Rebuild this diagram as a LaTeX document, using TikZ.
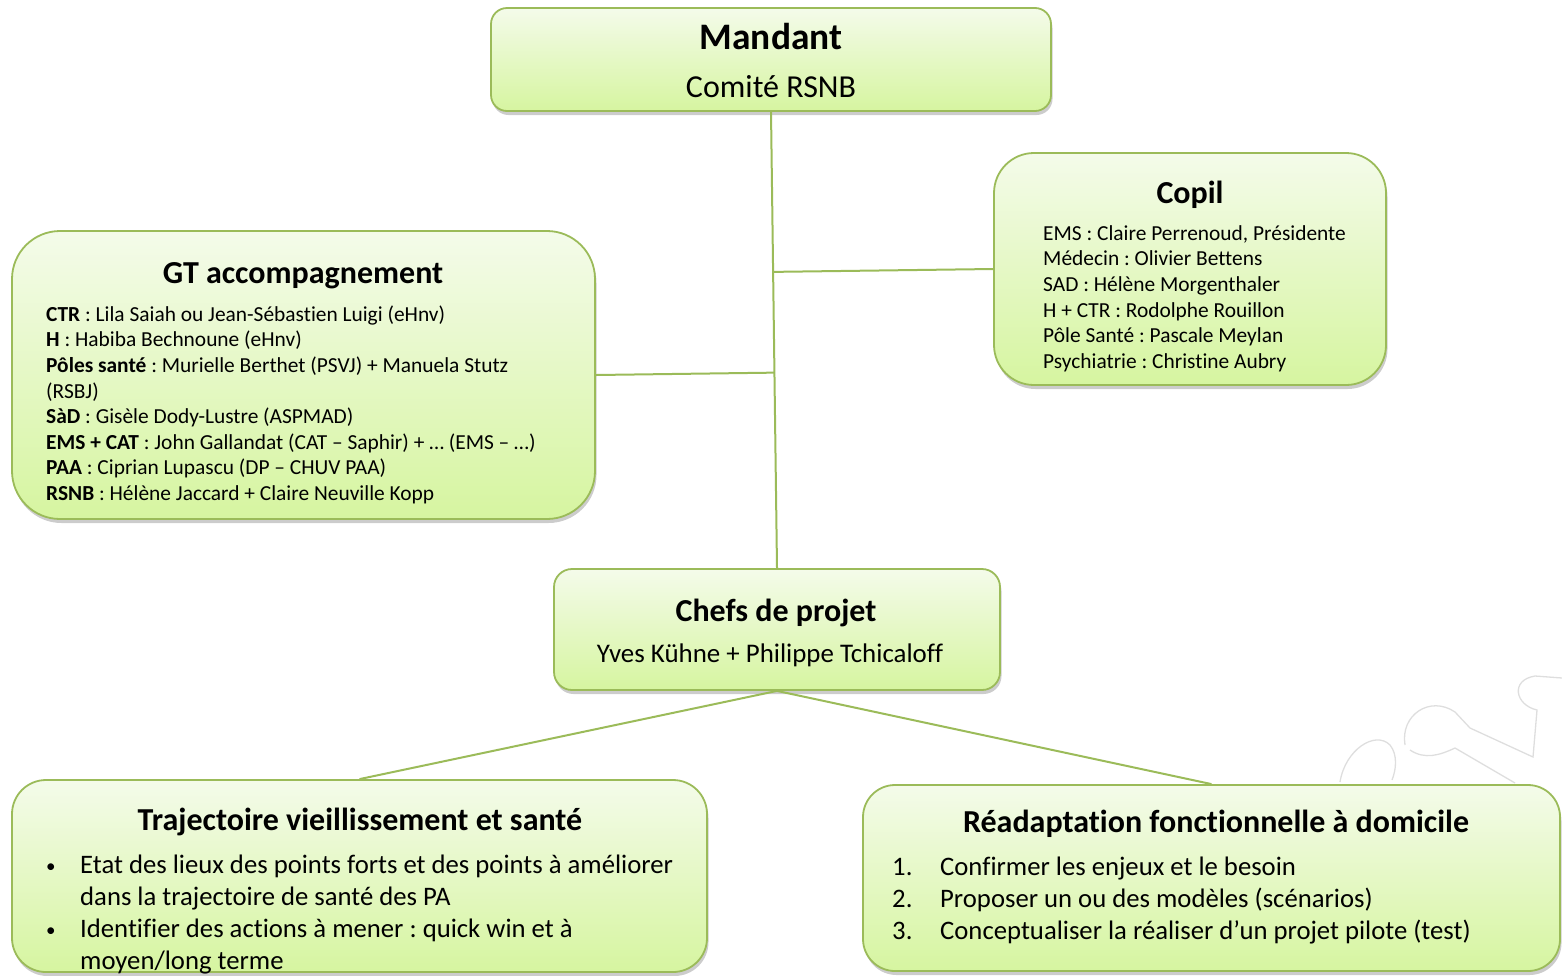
\documentclass[tikz,border=0pt]{standalone}
\usepackage{fontspec}
\setmainfont{Carlito}[Ligatures=NoCommon]
\frenchspacing
\usetikzlibrary{positioning,shadows,calc}
\definecolor{linegreen}{HTML}{9BBB59}
\definecolor{limetop}{HTML}{F4FBEA}
\definecolor{limebot}{HTML}{D6F5A0}
\newcommand{\smallbul}{\makebox[34pt][l]{\raisebox{1pt}{\fontsize{19}{19}\selectfont•}}}

\tikzset{
  box/.style={draw=linegreen, line width=1.8pt, top color=limetop, bottom color=limebot,
    drop shadow={shadow xshift=1.5pt, shadow yshift=-4pt, opacity=0.4}, inner sep=0pt},
  ttl/.style={font=\fontsize{32}{38}\selectfont\bfseries, anchor=base, inner sep=0pt},
  sub/.style={font=\fontsize{32}{36}\selectfont, anchor=base, inner sep=0pt},
  txt/.style={font=\fontsize{21.4}{25.6}\selectfont, align=left, anchor=north west, inner sep=0pt},
  big/.style={font=\fontsize{26.7}{32}\selectfont, align=left, anchor=north west, inner sep=0pt},
  link/.style={draw=linegreen, line width=2pt},
  wm/.style={draw=black!13, line width=1.3pt}
}

\begin{document}
\begin{tikzpicture}[x=1pt, y=-1pt]
\useasboundingbox (0,0) rectangle (1562,975);

\draw[wm] (1340,782) .. controls (1345,750) and (1375,730) .. (1390,745) .. controls (1398,755) and (1396,770) .. (1392,780);
\draw[wm] (1405,745) .. controls (1400,715) and (1430,695) .. (1455,712) -- (1470,728) -- (1533,757) -- (1537,710) .. controls (1515,705) and (1510,680) .. (1535,676) -- (1562,678);
\draw[wm] (1410,750) .. controls (1425,760) and (1440,755) .. (1455,748) -- (1515,783);

\node[box, minimum width=560pt, minimum height=103pt, rounded corners=16pt] (mand) at (771,59.5) {};
\node[box, minimum width=392pt, minimum height=232pt, rounded corners=40pt] (copil) at (1190,269) {};
\node[box, minimum width=583pt, minimum height=288pt, rounded corners=48pt] (gt) at (303.5,375) {};
\node[box, minimum width=446pt, minimum height=121pt, rounded corners=18pt] (chefs) at (777,629.5) {};
\node[box, minimum width=695pt, minimum height=192pt, rounded corners=34pt] (traj) at (359.5,876) {};
\node[box, minimum width=697pt, minimum height=186pt, rounded corners=32pt] (read) at (1211.5,878) {};

\coordinate (jc) at ($(mand.south)!(copil.west)!(chefs.north)$);
\coordinate (jg) at ($(mand.south)!(gt.east)!(chefs.north)$);
\draw[link] (mand.south) -- (chefs.north);
\draw[link] (jc) -- (copil.west);
\draw[link] (gt.east) -- (jg);
\draw[link] (chefs.south) -- (traj.north);
\draw[link] (chefs.south) -- (read.north);

\node[ttl, font=\fontsize{37.4}{42}\selectfont\bfseries] (mandT) at (771,49) {Mandant};
\node[sub] (mandS) at (771,97) {Comité RSNB};

\node[ttl] (copilT) at (1190,203) {Copil};
\node[txt] (copilL) at (1043,220) {\rule{0pt}{20pt}EMS : Claire Perrenoud, Présidente\\
Médecin : Olivier Bettens\\
SAD : Hélène Morgenthaler\\
H + CTR : Rodolphe Rouillon\\
Pôle Santé : Pascale Meylan\\
Psychiatrie : Christine Aubry};

\node[ttl] (gtT) at (303,283) {GT accompagnement};
\node[txt] (gtL) at (46,301) {\rule{0pt}{20pt}\textbf{CTR} : Lila Saiah ou Jean-Sébastien Luigi (eHnv)\\
\textbf{H} : Habiba Bechnoune (eHnv)\\
\textbf{Pôles santé} : Murielle Berthet (PSVJ) + Manuela Stutz\\
(RSBJ)\\
\textbf{SàD} : Gisèle Dody-Lustre (ASPMAD)\\
\textbf{EMS + CAT} : John Gallandat (CAT – Saphir) + … (EMS – …)\\
\textbf{PAA} : Ciprian Lupascu (DP – CHUV PAA)\\
\textbf{RSNB} : Hélène Jaccard + Claire Neuville Kopp};

\node[ttl] (chefsT) at (776,621) {Chefs de projet};
\node[sub, font=\fontsize{26.9}{32}\selectfont] (chefsS) at (770,662) {Yves Kühne + Philippe Tchicaloff};

\node[ttl] (trajT) at (360,830) {Trajectoire vieillissement et santé};
\node[big] (trajL) at (46,851) {\rule{0pt}{22pt}\smallbul Etat des lieux des points forts et des points à améliorer\\
\hspace*{34pt}dans la trajectoire de santé des PA\\
\smallbul Identifier des actions à mener : quick win et à\\
\hspace*{34pt}moyen/long terme};

\node[ttl] (readT) at (1216,832) {Réadaptation fonctionnelle à domicile};
\node[big] (readL) at (892,853) {\rule{0pt}{22pt}\makebox[48pt][l]{1.}Confirmer les enjeux et le besoin\\
\makebox[48pt][l]{2.}Proposer un ou des modèles (scénarios)\\
\makebox[48pt][l]{3.}Conceptualiser la réaliser d’un projet pilote (test)};
\end{tikzpicture}
\end{document}
